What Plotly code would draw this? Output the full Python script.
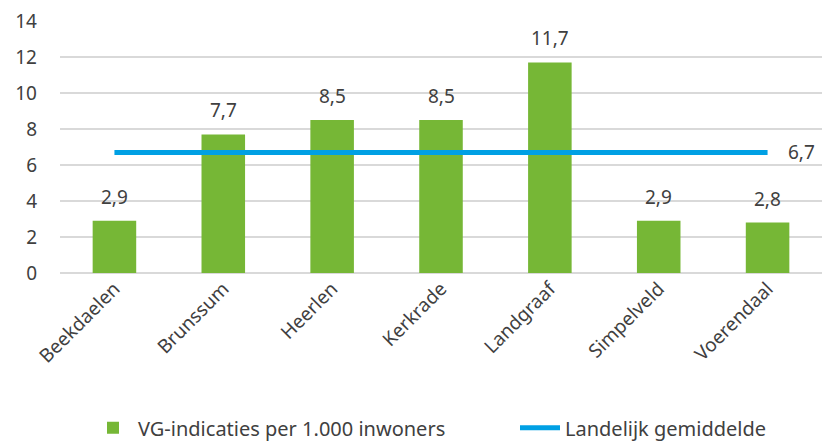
import plotly.graph_objects as go

categories = ["Beekdaelen", "Brunssum", "Heerlen", "Kerkrade", "Landgraaf", "Simpelveld", "Voerendaal"]
vg_values = [2.9, 7.7, 8.5, 8.5, 11.7, 2.9, 2.8]
national_avg = [6.7] * len(categories)
y_ticks = [0, 2, 4, 6, 8, 10, 12, 14]

def nl(v):
    return f"{v:.1f}".replace(".", ",")

FONT = "Noto Sans"
TXT = "#404040"
FS = 19

fig = go.Figure()
fig.add_trace(go.Bar(
    x=categories, y=vg_values, name="VG-indicaties per 1.000 inwoners",
    marker=dict(color="#76b736", line=dict(width=0)),
    legendwidth=372,
))
fig.add_trace(go.Scatter(
    x=categories, y=national_avg, name="Landelijk gemiddelde",
    mode="lines", line=dict(color="#00a0e4", width=5),
    cliponaxis=False,
))

annotations = []
for c, v in zip(categories, vg_values):
    annotations.append(dict(x=c, y=v, text=nl(v), showarrow=False, yanchor="middle",
                            yshift=24, font=dict(family=FONT, size=FS, color=TXT)))
annotations.append(dict(x=categories[-1], y=national_avg[-1], text=nl(national_avg[-1]),
                        showarrow=False, xanchor="left", yanchor="middle", xshift=18,
                        font=dict(family=FONT, size=FS, color=TXT)))

fig.update_layout(
    width=825, height=441,
    margin=dict(l=60, r=3, t=21, b=168, autoexpand=False),
    plot_bgcolor="white", paper_bgcolor="white",
    bargap=0.6,
    font=dict(family=FONT, size=FS, color=TXT),
    showlegend=True,
    annotations=annotations,
    legend=dict(orientation="h", xref="container", x=88 / 825, xanchor="left",
                yref="container", y=0.03, yanchor="middle",
                font=dict(family=FONT, size=20, color=TXT), traceorder="normal",
                itemwidth=40),
)
fig.update_yaxes(range=[0, 14], tickvals=y_ticks, showgrid=True, gridcolor="#d9d9d9",
                 gridwidth=1.5, zeroline=True, zerolinecolor="#d9d9d9", zerolinewidth=1.5,
                 tickfont=dict(family=FONT, size=FS, color=TXT), ticks="", ticklabelstandoff=22)
fig.update_xaxes(tickangle=-45, tickfont=dict(family=FONT, size=FS, color=TXT), showline=False,
                 ticks="")
fig.write_html("out.html", config={"displayModeBar": False},
               post_script="document.body.style.margin='0';document.body.style.overflow='hidden';")
